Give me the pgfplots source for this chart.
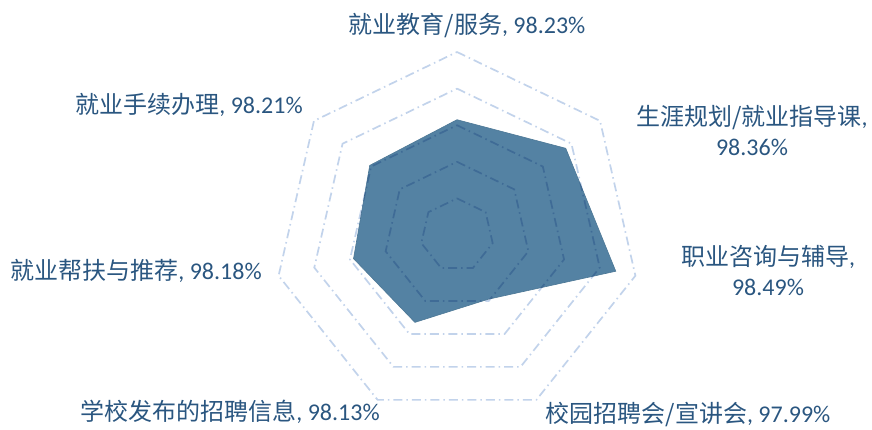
\documentclass[border=0pt]{standalone}
\usepackage{pgfplots}
\pgfplotsset{compat=1.18}
\usepgfplotslibrary{polar}
\usepackage{pgfplotstable}
\usepackage{fontspec}
\setmainfont{Carlito}
\newfontfamily\cjk{Noto Sans CJK SC}
\definecolor{fillc}{RGB}{84,130,163}
\definecolor{ringc}{RGB}{194,211,235}
\definecolor{txt}{RGB}{42,86,128}
\pgfplotstableread{
angle v
90 98.23
38.5714 98.36
-12.8571 98.49
-64.2857 97.99
-115.7143 98.13
-167.1429 98.18
-218.5714 98.21
90 98.23
}\datatable
\tikzset{ring/.style={ringc, line width=1.7pt, dash pattern=on 9pt off 4pt on 1.5pt off 4pt, blend mode=multiply}}
\begin{document}
\begin{tikzpicture}[x=1pt,y=1pt]
\path[use as bounding box] (0,0) rectangle (872,429);
\begin{polaraxis}[at={(457pt,194pt)}, anchor=center, scale only axis,
  width=366pt, height=366pt, ymin=0, ymax=1, hide axis, clip=false]
\addplot[fill=fillc, draw=fillc!92!black, line width=0.6pt, mark=none]
  table[x=angle, y expr=\thisrow{v}-97.6] {\datatable};
\addplot[ring, mark=none] coordinates {(90,0.2) (38.5714,0.2) (-12.8571,0.2) (-64.2857,0.2) (-115.7143,0.2) (-167.1429,0.2) (-218.5714,0.2) (-270,0.2)};
\addplot[ring, mark=none] coordinates {(90,0.4) (38.5714,0.4) (-12.8571,0.4) (-64.2857,0.4) (-115.7143,0.4) (-167.1429,0.4) (-218.5714,0.4) (-270,0.4)};
\addplot[ring, mark=none] coordinates {(90,0.6) (38.5714,0.6) (-12.8571,0.6) (-64.2857,0.6) (-115.7143,0.6) (-167.1429,0.6) (-218.5714,0.6) (-270,0.6)};
\addplot[ring, mark=none] coordinates {(90,0.8) (38.5714,0.8) (-12.8571,0.8) (-64.2857,0.8) (-115.7143,0.8) (-167.1429,0.8) (-218.5714,0.8) (-270,0.8)};
\addplot[ring, mark=none] coordinates {(90,1.0) (38.5714,1.0) (-12.8571,1.0) (-64.2857,1.0) (-115.7143,1.0) (-167.1429,1.0) (-218.5714,1.0) (-270,1.0)};
\end{polaraxis}
\begin{scope}[every node/.style={font=\fontsize{24}{30}\selectfont, text=txt, inner sep=0pt, align=center}]
\node at (467,404) {{\cjk 就业教育/服务}, 98.23\%};
\node at (752,299) {{\cjk 生涯规划/就业指导课},\\98.36\%};
\node at (768,158) {{\cjk 职业咨询与辅导},\\98.49\%};
\node at (189,324) {{\cjk 就业手续办理}, 98.21\%};
\node at (136,158) {{\cjk 就业帮扶与推荐}, 98.18\%};
\node at (230,17) {{\cjk 学校发布的招聘信息}, 98.13\%};
\node at (688,15) {{\cjk 校园招聘会/宣讲会}, 97.99\%};
\end{scope}
\end{tikzpicture}
\end{document}
